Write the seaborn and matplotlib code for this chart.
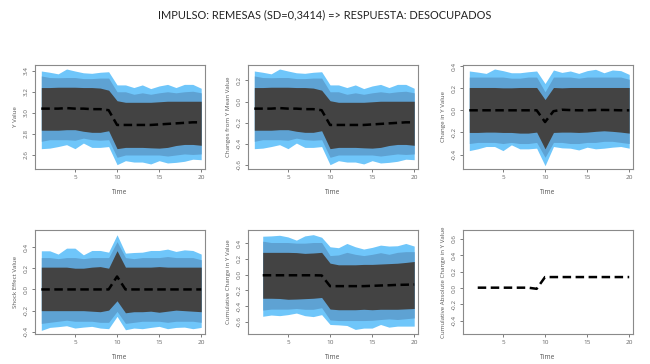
import numpy as np
import pandas as pd
import matplotlib
matplotlib.use("Agg")
import matplotlib.pyplot as plt
import seaborn as sns

sns.set_style("white")
plt.rcParams['font.family'] = ['Open Sans', 'DejaVu Sans']
plt.rcParams['axes.unicode_minus'] = False

title = "IMPULSO: REMESAS (SD=0,3414) => RESPUESTA: DESOCUPADOS"

t_full = list(range(1, 21))
t_cum = list(range(2, 21))

# Panel 1: Y Value
mean1 = [3.04,3.04,3.04,3.045,3.04,3.04,3.035,3.035,3.025,2.885,2.885,2.885,2.885,2.885,2.89,2.895,2.90,2.905,2.91,2.91]
in1_hi = [3.24,3.24,3.243,3.243,3.243,3.24,3.24,3.235,3.215,3.115,3.10,3.10,3.10,3.10,3.105,3.11,3.11,3.11,3.11,3.11]
in1_lo = [2.835,2.835,2.835,2.84,2.84,2.825,2.815,2.815,2.83,2.66,2.672,2.672,2.672,2.668,2.665,2.672,2.69,2.70,2.70,2.692]
mid1_hi = [3.35,3.335,3.333,3.335,3.335,3.325,3.325,3.33,3.33,3.20,3.20,3.176,3.19,3.176,3.19,3.20,3.19,3.20,3.205,3.19]
mid1_lo = [2.73,2.745,2.745,2.745,2.74,2.76,2.745,2.74,2.745,2.578,2.60,2.60,2.60,2.60,2.60,2.59,2.60,2.61,2.605,2.61]
out1_hi = [3.397,3.385,3.37,3.416,3.397,3.38,3.375,3.385,3.39,3.265,3.265,3.24,3.265,3.23,3.255,3.27,3.24,3.27,3.27,3.233]
out1_lo = [2.66,2.665,2.68,2.698,2.66,2.713,2.672,2.672,2.68,2.508,2.546,2.533,2.533,2.515,2.546,2.524,2.53,2.54,2.56,2.555]

# Panel 2: Changes from Y Mean Value (Y value minus its mean)
y_mean = 3.107

# Panel 3: Change in Y Value
mean3 = [0,0,0,0,0,0,0,0,0,-0.106,-0.008,0.005,0.002,0,0,0.003,0.003,0.002,0,0]
in3_hi = [0.206,0.206,0.206,0.206,0.203,0.203,0.206,0.206,0.206,0.097,0.206,0.203,0.206,0.206,0.206,0.206,0.206,0.206,0.206,0.206]
in3_lo = [-0.20,-0.20,-0.197,-0.197,-0.20,-0.20,-0.206,-0.206,-0.197,-0.348,-0.20,-0.197,-0.197,-0.20,-0.197,-0.19,-0.185,-0.19,-0.197,-0.206]
mid3_hi = [0.30,0.30,0.30,0.30,0.30,0.29,0.29,0.30,0.30,0.167,0.30,0.30,0.30,0.29,0.30,0.30,0.30,0.30,0.30,0.28]
mid3_lo = [-0.30,-0.29,-0.29,-0.29,-0.30,-0.29,-0.30,-0.30,-0.29,-0.424,-0.29,-0.29,-0.30,-0.30,-0.29,-0.29,-0.28,-0.28,-0.29,-0.30]
out3_hi = [0.355,0.345,0.333,0.373,0.358,0.339,0.339,0.348,0.355,0.242,0.364,0.342,0.355,0.333,0.358,0.37,0.339,0.364,0.358,0.324]
out3_lo = [-0.364,-0.348,-0.327,-0.327,-0.364,-0.312,-0.348,-0.348,-0.342,-0.50,-0.327,-0.339,-0.342,-0.358,-0.333,-0.348,-0.342,-0.333,-0.327,-0.342]

# Panel 4: Shock Effect Value
mean4 = [0,0,0,0,0,0,0,0,0,0.122,0,0,0,0,0,0,0,0,0,0]
in4_hi = [0.21,0.21,0.21,0.21,0.20,0.20,0.21,0.215,0.20,0.365,0.21,0.21,0.21,0.21,0.215,0.21,0.21,0.21,0.21,0.21]
in4_lo = [-0.20,-0.20,-0.20,-0.20,-0.20,-0.20,-0.205,-0.21,-0.195,-0.107,-0.22,-0.21,-0.21,-0.205,-0.215,-0.205,-0.195,-0.20,-0.205,-0.21]
mid4_hi = [0.30,0.30,0.29,0.30,0.30,0.29,0.30,0.30,0.30,0.45,0.30,0.29,0.30,0.30,0.30,0.31,0.30,0.30,0.30,0.28]
mid4_lo = [-0.32,-0.31,-0.30,-0.29,-0.30,-0.30,-0.30,-0.31,-0.31,-0.207,-0.32,-0.31,-0.30,-0.30,-0.30,-0.31,-0.30,-0.30,-0.30,-0.31]
out4_hi = [0.364,0.364,0.333,0.389,0.389,0.326,0.367,0.367,0.351,0.515,0.342,0.348,0.351,0.367,0.367,0.38,0.358,0.373,0.367,0.333]
out4_lo = [-0.386,-0.358,-0.351,-0.342,-0.364,-0.355,-0.348,-0.364,-0.37,-0.254,-0.38,-0.364,-0.37,-0.358,-0.348,-0.37,-0.358,-0.355,-0.37,-0.358]

# Panel 5: Cumulative Change in Y Value (t = 2..20)
mean5 = [-0.008,-0.008,-0.008,-0.008,-0.008,-0.008,-0.008,-0.01,-0.146,-0.146,-0.146,-0.146,-0.146,-0.142,-0.138,-0.135,-0.13,-0.128,-0.125]
in5_hi = [0.283,0.283,0.283,0.283,0.28,0.27,0.275,0.283,0.146,0.125,0.125,0.125,0.13,0.13,0.135,0.14,0.145,0.155,0.167]
in5_lo = [-0.30,-0.30,-0.303,-0.313,-0.31,-0.305,-0.30,-0.29,-0.437,-0.446,-0.446,-0.446,-0.44,-0.446,-0.44,-0.44,-0.44,-0.435,-0.43]
mid5_hi = [0.425,0.408,0.408,0.408,0.40,0.40,0.408,0.408,0.242,0.25,0.283,0.258,0.242,0.258,0.279,0.258,0.283,0.292,0.292]
mid5_lo = [-0.45,-0.438,-0.438,-0.438,-0.43,-0.44,-0.44,-0.42,-0.575,-0.583,-0.583,-0.583,-0.583,-0.58,-0.57,-0.562,-0.57,-0.56,-0.55]
out5_hi = [0.488,0.492,0.50,0.479,0.438,0.492,0.508,0.475,0.354,0.342,0.396,0.354,0.325,0.346,0.375,0.363,0.367,0.396,0.363]
out5_lo = [-0.529,-0.513,-0.521,-0.508,-0.488,-0.521,-0.533,-0.508,-0.633,-0.638,-0.646,-0.696,-0.679,-0.679,-0.633,-0.667,-0.654,-0.654,-0.654]

# Panel 6: Cumulative Absolute Change in Y Value (t = 2..20)
mean6 = [0.004,0.004,0.004,0.004,0.004,0.004,0.004,-0.01,0.134,0.134,0.134,0.134,0.134,0.134,0.134,0.134,0.134,0.134,0.134]

ylabels = ["Y Value", "Changes from Y Mean Value", "Change in Y Value",
           "Shock Effect Value", "Cumulative Change in Y Value",
           "Cumulative Absolute Change in Y Value"]
yticks = [[2.6, 2.8, 3.0, 3.2, 3.4], [-0.6, -0.4, -0.2, 0.0, 0.2],
          [-0.4, -0.2, 0.0, 0.2, 0.4], [-0.4, -0.2, 0.0, 0.2, 0.4],
          [-0.6, -0.4, -0.2, 0.0, 0.2, 0.4], [-0.4, -0.2, 0.0, 0.2, 0.4, 0.6]]
ylims = [(2.467, 3.454), (-0.640, 0.347), (-0.53, 0.409),
         (-0.42, 0.56), (-0.754, 0.567), (-0.563, 0.71)]
xticks = [5, 10, 15, 20]

panels = [
    (t_full, mean1, [(out1_lo, out1_hi), (mid1_lo, mid1_hi), (in1_lo, in1_hi)]),
    (t_full, [v - y_mean for v in mean1],
     [([v - y_mean for v in out1_lo], [v - y_mean for v in out1_hi]),
      ([v - y_mean for v in mid1_lo], [v - y_mean for v in mid1_hi]),
      ([v - y_mean for v in in1_lo], [v - y_mean for v in in1_hi])]),
    (t_full, mean3, [(out3_lo, out3_hi), (mid3_lo, mid3_hi), (in3_lo, in3_hi)]),
    (t_full, mean4, [(out4_lo, out4_hi), (mid4_lo, mid4_hi), (in4_lo, in4_hi)]),
    (t_cum, mean5, [(out5_lo, out5_hi), (mid5_lo, mid5_hi), (in5_lo, in5_hi)]),
    (t_cum, mean6, []),
]

band_colors = ["#6fc6fa", "#5ea2d3", "#434343"]

W, H = 650, 364
fig = plt.figure(figsize=(6.5, 3.64), dpi=100)
fig.patch.set_facecolor("white")

lefts = [35, 248, 463]
tops = [65, 230]
aw, ah = 170, 104

for i, (tt, mean, bands) in enumerate(panels):
    r, c = divmod(i, 3)
    ax = fig.add_axes([lefts[c] / W, 1 - (tops[r] + ah) / H, aw / W, ah / H])
    for (lo, hi), col in zip(bands, band_colors):
        ax.fill_between(tt, lo, hi, color=col, linewidth=0)
    df = pd.DataFrame({"Time": tt, "val": mean})
    sns.lineplot(data=df, x="Time", y="val", ax=ax, color="black",
                 linewidth=1.8, dashes=False)
    ax.lines[-1].set_dashes((3.4, 1.8))
    ax.set_xlim(0.25, 20.45)
    ax.set_ylim(*ylims[i])
    ax.set_xticks(xticks)
    ax.set_yticks(yticks[i])
    ax.set_xticklabels([str(x) for x in xticks])
    ax.set_yticklabels([f"{v:.1f}" for v in yticks[i]], rotation=90, va="center")
    ax.tick_params(axis="both", labelsize=4.6, length=2.5, width=0.6,
                   colors="#666666", pad=2, direction="out",
                   bottom=True, left=True)
    ax.set_xlabel("Time", fontsize=4.8, color="#555555", labelpad=6)
    ax.set_ylabel(ylabels[i], fontsize=4.4, color="#555555", labelpad=4)
    for s in ax.spines.values():
        s.set_color("#8a8a8a")
        s.set_linewidth(0.8)
    ax.set_facecolor("white")

fig.text(0.5, 1 - 15 / H, title, ha="center", va="center", fontsize=7.9,
         color="#222222", family=["Lato", "DejaVu Sans"])

fig.savefig("out.png", dpi=100, facecolor="white")
